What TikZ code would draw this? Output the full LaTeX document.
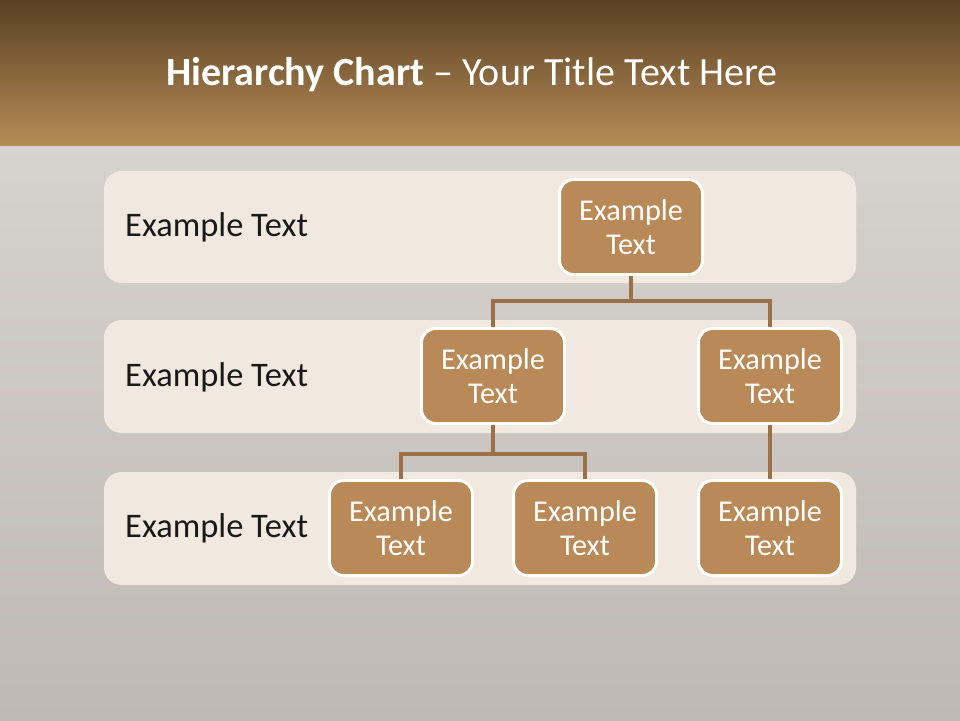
\documentclass[tikz,border=0pt]{standalone}
\usepackage{fontspec}
\setmainfont{Carlito}
\definecolor{barTop}{HTML}{5A4124}
\definecolor{barBottom}{HTML}{B58B55}
\definecolor{bandFill}{HTML}{F1E9E0}
\definecolor{boxFill}{HTML}{B98A57}
\definecolor{lineBrown}{HTML}{9C7046}
\definecolor{backTop}{HTML}{D6D2CE}
\definecolor{backBottom}{HTML}{BEB9B4}
\tikzset{
  band/.style={fill=bandFill, rounded corners=10},
  bandlabel/.style={anchor=west, text=black!90, font=\fontsize{19.6}{23}\selectfont},
  orgbox/.style={draw=white, line width=1.7pt, fill=boxFill, rounded corners=8,
    minimum width=143*0.02cm, minimum height=95*0.02cm, inner sep=0pt,
    text=white, align=center, font=\fontsize{17.2}{19}\selectfont},
  conn/.style={draw=lineBrown, line width=2pt}
}
\begin{document}
\begin{tikzpicture}[x=0.02cm, y=-0.02cm]
    \useasboundingbox (0,0) rectangle (960,720);

    % Background
    \shade[top color=backTop, bottom color=backBottom] (0,145) rectangle (960,720);

    % Title bar
    \shade[top color=barTop, bottom color=barBottom] (0,0) rectangle (960,145);
    \node[text=white, font=\fontsize{22.8}{27}\selectfont] (title) at (472,75)
        {\textbf{Hierarchy Chart} -- Your Title Text Here};

    % Bands
    \fill[band] (104,171) rectangle (856,283);
    \fill[band] (104,320) rectangle (856,433);
    \fill[band] (104,472) rectangle (856,585);
    \node[bandlabel] (labela) at (119,227) {Example Text};
    \node[bandlabel] (labelb) at (119,377) {Example Text};
    \node[bandlabel] (labelc) at (119,528) {Example Text};

    % Boxes
    \node[orgbox] (top)   at (631,227) {Example\\Text};
    \node[orgbox] (mida)  at (493,376) {Example\\Text};
    \node[orgbox] (midb)  at (770,376) {Example\\Text};
    \node[orgbox] (lowa)  at (401,528) {Example\\Text};
    \node[orgbox] (lowb)  at (585,528) {Example\\Text};
    \node[orgbox] (lowc)  at (770,528) {Example\\Text};

    % Connectors
    \draw[conn] (top.south) -- ++(0,25) -| (mida.north);
    \draw[conn] (top.south) -- ++(0,25) -| (midb.north);
    \draw[conn] (mida.south) -- ++(0,29) -| (lowa.north);
    \draw[conn] (mida.south) -- ++(0,29) -| (lowb.north);
    \draw[conn] (midb.south) -- (lowc.north);
\end{tikzpicture}
\end{document}
